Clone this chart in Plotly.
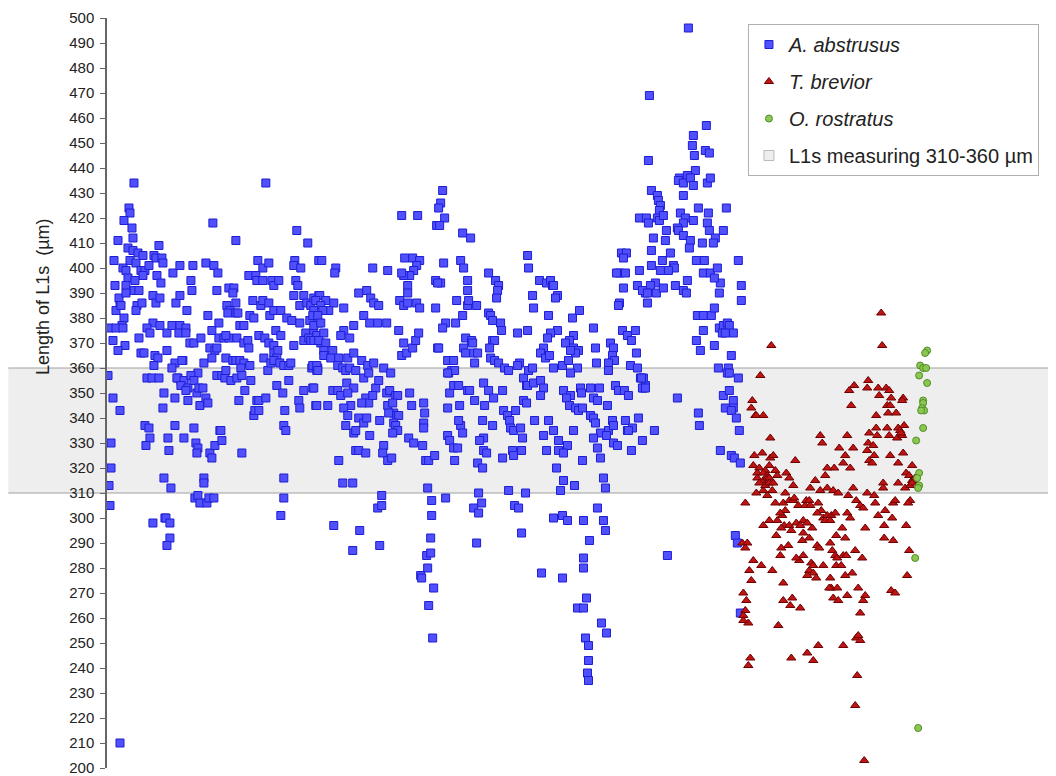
import plotly.graph_objects as go

# ---------------- data (sample order, length of L1s in µm) ----------------
abstrusus_part1 = [
(26,434),(158,434),(21,424),(22,422),(16,419),(24,416),(25,412),(105,418),(128,411),(189,415),(200,410),(10,411),(51,409),(20,408),(25,407),(30,406),(35,405),(46,405),(6,403),(22,403),(28,402),(48,404),(54,404),(55,402),(65,398),(72,401),(85,401),(98,402),(106,401),(110,398),(150,403),(155,400),(161,402),(187,403),(186,401),(193,400),(211,403),(15,400),(18,399),(20,396),(33,399),(37,399),(41,401),(35,397),(49,397),(53,394),(7,393),(18,393),(27,395),(26,391),(83,395),(84,391),(109,391),(121,392),(126,392),(125,390),(128,386),(141,397),(148,397),(149,395),(155,395),(164,395),(166,393),(171,395),(188,395),(190,393),(11,388),(12,385),(8,383),(13,385),(18,390),(31,391),(29,385),(28,383),(34,386),(45,389),(48,386),(52,388),(68,386),(72,389),(79,383),(119,385),(122,383),(120,382),(128,382),(130,382),(145,387),(153,385),(155,387),(161,386),(162,381),(166,383),(173,383),(186,389),(192,385),(196,389),(199,386),(203,385),(206,388),(211,389),(16,380),(14,377),(1,376),(8,376),(15,376),(45,378),(39,376),(42,374),(52,377),(59,374),(64,377),(72,377),(71,374),(78,376),(78,374),(100,381),(104,375),(111,378),(132,377),(136,377),(142,381),(146,380),(179,380),(184,379),(192,378),(168,375),(173,373),(198,374),(202,379),(206,374),(211,378),(5,371),(17,369),(10,367),(31,372),(82,370),(86,370),(93,372),(102,368),(107,367),(109,368),(111,372),(116,372),(121,372),(118,373),(129,372),(136,370),(140,371),(141,368),(151,373),(157,372),(161,370),(166,369),(166,366),(170,367),(169,364),(186,369),(196,371),(201,372),(208,371),(213,370),(33,366),(36,366),(47,365),(50,364),(46,361),(59,367),(67,362),(75,363),(74,363),(64,360),(70,356),(73,355),(76,354),(90,358),(96,362),(104,364),(118,364),(125,363),(128,363),(132,363),(136,362),(142,361),(156,364),(160,359),(163,362),(166,363),(172,362),(176,361),(181,361),(183,362),(204,360),(209,359),(210,360),(0,357),(5,348),(12,343),(39,356),(44,356),(51,356),(56,350),(55,344),(67,348),(69,356),(76,355),(73,353),(80,352),(78,351),(80,347),(83,357),(86,355),(89,350),(91,352),(95,352),(92,345),(98,348),(100,346),(109,357),(114,357),(117,356),(118,359),(123,355),(129,356),(133,360),(134,357),(131,347),(137,351),(143,355),(149,347),(151,347),(158,348),(146,341),(147,343),(151,343),(169,353),(175,350),(177,343),(181,355),(191,347),(192,344),(196,351),(205,352),(208,345),(37,337),(41,336),(42,332),(38,329),(60,332),(61,327),(67,337),(76,332),(86,336),(88,330),(90,328),(89,326),(102,326),(104,324),(107,329),(112,335),(114,331),(113,335),(134,326),(176,337),(178,335),(3,330),(3,320),(1,313),(56,316),(63,312),(96,316),(96,314),(176,316),(176,308),(2,305),(87,308),(90,309),(92,306),(99,306),(101,308),(106,308),(45,298),(57,300),(58,300),(62,298),(62,292),(173,301),(59,289),(12,210),
]
abstrusus_part2 = [
(335,431),(333,426),(331,424),(337,420),(329,417),(332,417),(294,421),(310,421),(355,414),(363,412),(214,403),(228,400),(227,398),(265,400),(280,399),(297,404),(305,404),(312,403),(309,401),(306,399),(302,397),(296,397),(294,398),(336,402),(353,403),(356,400),(381,398),(388,395),(391,393),(390,391),(389,388),(420,405),(421,400),(328,395),(333,394),(330,394),(300,393),(300,390),(360,395),(360,391),(212,389),(218,387),(226,386),(236,384),(208,387),(213,385),(221,383),(215,383),(206,383),(205,381),(210,381),(206,377),(213,378),(251,390),(259,391),(263,388),(266,386),(271,385),(256,381),(262,378),(270,378),(279,378),(246,377),(236,375),(242,372),(233,373),(292,387),(296,385),(300,386),(309,386),(312,384),(328,384),(291,375),(296,370),(294,365),(299,366),(305,368),(308,371),(311,374),(338,378),(335,376),(330,368),(331,368),(348,378),(349,387),(360,385),(369,385),(361,387),(355,381),(358,372),(364,371),(365,370),(356,368),(366,366),(358,366),(370,366),(340,363),(346,363),(341,358),(344,359),(347,359),(367,362),(381,382),(383,381),(385,379),(393,378),(394,375),(410,374),(420,375),(385,371),(387,371),(382,368),(383,364),(387,363),(391,362),(397,360),(401,359),(412,362),(410,361),(416,356),(419,353),(421,359),(203,371),(209,373),(216,374),(206,371),(211,371),(218,370),(216,367),(221,365),(225,367),(216,365),(223,364),(231,364),(240,364),(246,366),(205,361),(209,361),(210,359),(230,361),(235,360),(238,359),(242,360),(248,359),(254,363),(260,361),(266,362),(276,360),(283,358),(206,352),(209,345),(220,345),(225,351),(230,351),(233,349),(239,354),(246,352),(240,350),(243,345),(236,344),(238,337),(240,341),(246,334),(248,335),(256,356),(261,358),(268,352),(271,355),(258,348),(261,346),(265,349),(254,346),(251,340),(256,338),(259,340),(262,333),(272,339),(248,327),(251,327),(258,326),(279,350),(282,351),(288,349),(290,349),(280,345),(285,346),(286,342),(289,341),(291,341),(281,342),(286,338),(288,337),(290,335),(285,334),(276,329),(275,326),(280,323),(284,324),(231,323),(235,314),(245,314),(302,350),(304,345),(316,346),(317,342),(316,338),(316,336),(301,332),(306,330),(315,329),(318,323),(321,323),(327,325),(320,312),(324,307),(340,358),(342,350),(346,353),(351,353),(360,351),(362,351),(340,344),(352,345),(353,337),(351,339),(355,334),(340,333),(342,331),(346,328),(350,328),(347,323),(338,308),(324,301),(376,354),(381,351),(386,348),(367,347),(377,345),(375,339),(376,332),(372,331),(385,337),(370,322),(375,320),(376,327),(379,326),(371,310),(374,306),(366,304),(371,302),(369,290),(395,351),(396,343),(400,341),(402,339),(403,336),(406,335),(408,343),(413,336),(415,332),(405,327),(414,327),(406,325),(395,324),(401,311),(407,305),(411,304),(418,310),(414,294),(420,353),(416,347),(419,346),(226,297),(252,295),(245,287),(272,289),(274,309),(270,304),(274,305),(323,292),(319,285),(323,286),(320,280),(313,277),(314,276),(326,272),(321,265),(325,252),
]
abstrusus_part3 = [
(581,496),(542,469),(541,443),(599,457),(586,453),(585,449),(587,445),(598,447),(602,446),(588,439),(580,437),(572,436),(571,435),(576,434),(583,436),(586,433),(600,434),(603,436),(576,429),(544,431),(550,429),(551,427),(553,425),(552,423),(619,424),(601,422),(591,424),(573,422),(578,420),(576,418),(570,416),(571,415),(576,413),(583,411),(582,408),(586,419),(532,420),(539,420),(541,418),(550,420),(552,419),(556,421),(559,415),(558,411),(546,412),(544,407),(600,418),(602,415),(608,412),(616,415),(595,410),(606,410),(631,403),(634,393),(634,387),(514,406),(519,406),(516,404),(512,398),(518,398),(509,398),(516,392),(512,386),(511,385),(532,399),(544,401),(555,403),(563,406),(566,401),(567,400),(561,399),(553,399),(548,394),(543,393),(538,390),(540,386),(530,393),(535,391),(540,390),(549,390),(556,392),(568,393),(576,391),(579,390),(580,395),(589,403),(596,398),(597,403),(603,398),(610,400),(613,394),(607,396),(612,390),(590,381),(596,381),(604,381),(607,384),(596,375),(589,371),(593,367),(607,369),(612,376),(616,377),(620,378),(622,377),(626,374),(615,374),(618,374),(624,365),(621,360),(620,358),(622,358),(631,356),(611,360),(616,349),(622,351),(626,347),(626,344),(618,344),(624,343),(629,340),(632,335),(613,327),(624,325),(627,324),(633,322),(628,293),(630,290),(633,262),(560,285),(570,348),(591,342),(592,337),(432,395),(439,394),(443,395),(445,393),(450,389),(448,388),(446,393),(425,389),(426,384),(441,381),(450,375),(443,374),(440,372),(436,368),(433,366),(438,364),(442,365),(465,380),(472,383),(466,373),(462,371),(458,370),(466,368),(471,367),(468,366),(463,367),(486,376),(488,368),(489,362),(503,370),(506,368),(505,365),(507,363),(501,362),(501,359),(529,366),(523,361),(530,360),(533,356),(536,352),(538,353),(515,375),(520,373),(524,371),(528,375),(425,360),(426,354),(433,355),(436,352),(433,349),(446,360),(455,361),(461,363),(470,360),(463,358),(456,351),(463,349),(459,348),(473,352),(474,350),(462,345),(468,344),(471,343),(475,344),(483,352),(492,352),(486,348),(490,347),(483,341),(486,340),(488,338),(500,345),(508,353),(511,351),(517,351),(521,349),(535,352),(538,352),(536,356),(534,356),(493,334),(501,335),(499,333),(505,339),(506,337),(518,339),(520,335),(525,336),(531,340),(521,335),(535,331),(547,335),(427,339),(441,339),(436,333),(446,335),(466,335),(460,329),(451,327),(456,326),(451,331),(475,323),(486,332),(490,328),(493,324),(506,330),(510,329),(524,327),(439,327),(449,320),(456,315),(453,311),(467,313),(496,316),(498,312),(446,300),(455,301),(460,299),(476,299),(490,304),(496,299),(498,295),(482,291),(476,284),(476,280),(434,278),(455,276),(479,268),(470,264),(476,264),(494,258),(499,254),(478,252),(481,249),(481,243),(480,238),(481,235),
]
brevior = [
(774,382),(664,369),(775,369),(653,357),(761,355),(747,353),(742,351),(760,352),(771,352),(779,352),(782,351),(772,349),(784,348),(780,345),(783,345),(796,348),(795,347),(744,345),(769,341),(781,342),(789,342),(645,347),(644,344),(648,341),(649,341),(656,341),(663,332),(713,333),(715,330),(740,333),(732,328),(746,328),(762,334),(769,336),(770,333),(761,330),(766,329),(780,336),(782,333),(791,336),(793,335),(797,337),(790,332),(795,333),(794,334),(760,327),(767,325),(783,325),(796,326),(762,323),(765,322),(791,322),(805,321),(799,318),(802,317),(805,315),(808,316),(647,325),(655,326),(663,324),(666,325),(662,321),(646,321),(652,320),(658,319),(668,319),(650,318),(656,318),(660,317),(670,317),(679,318),(682,316),(650,316),(656,315),(660,316),(662,316),(652,314),(686,313),(688,323),(720,320),(727,320),(736,322),(738,325),(743,320),(718,317),(708,315),(703,312),(713,311),(720,312),(726,311),(731,310),(741,309),(746,312),(760,310),(767,309),(776,314),(776,312),(791,314),(798,312),(803,313),(806,315),(805,314),(678,310),(649,310),(656,311),(660,309),(665,311),(658,313),(662,314),(666,314),(638,306),(668,306),(676,306),(678,303),(675,301),(682,307),(686,307),(687,308),(691,305),(699,307),(702,307),(698,305),(703,305),(711,306),(714,303),(710,302),(716,300),(718,299),(720,301),(724,301),(723,299),(728,302),(740,302),(743,300),(749,307),(753,305),(756,304),(768,306),(771,301),(778,303),(785,300),(786,306),(788,307),(803,307),(801,306),(656,297),(662,299),(670,299),(673,302),(677,297),(682,297),(689,298),(696,299),(693,297),(700,298),(705,296),(674,296),(669,293),(684,295),(696,294),(695,291),(702,292),(710,289),(712,288),(723,290),(729,293),(735,296),(738,292),(758,296),(777,297),(777,292),(786,291),(799,297),(635,290),(640,290),(638,288),(674,288),(673,285),(681,289),(696,285),(692,283),(689,284),(704,282),(706,281),(702,279),(706,278),(700,277),(709,276),(716,281),(725,287),(728,285),(730,284),(736,285),(739,285),(729,281),(734,281),(738,277),(723,276),(724,272),(730,272),(722,272),(748,287),(755,284),(745,278),(751,272),(740,269),(726,268),(731,267),(758,269),(756,267),(753,262),(784,271),(788,270),(800,277),(802,287),(676,274),(685,268),(683,265),(693,264),(676,267),(646,283),(642,279),(665,279),(654,281),(644,275),(636,270),(639,267),(638,263),(636,261),(641,258),(636,259),(671,257),(643,244),(641,241),(684,244),(700,246),(706,243),(711,249),(736,249),(749,252),(753,251),(751,253),(750,237),(748,225),(757,203),
]
rostratus = [
(820,367),(818,366),(813,361),(816,360),(819,360),(812,357),(820,354),(816,347),(816,346),(815,344),(817,343),(814,343),(816,336),(809,331),(812,318),(810,316),(812,313),(811,312),(808,284),(811,216),
]
band_low, band_high = 310, 360
y_ticks = list(range(200, 501, 10))

abstrusus = abstrusus_part1 + abstrusus_part2 + abstrusus_part3


def xs(pts):
    return [p[0] for p in pts]


def ys(pts):
    return [p[1] for p in pts]


fig = go.Figure()

fig.add_trace(go.Scatter(
    x=xs(abstrusus), y=ys(abstrusus), mode="markers", name="<i>A. abstrusus</i>",
    legendgroup="a",
    marker=dict(symbol="square", size=8, color="rgb(80,80,255)",
                line=dict(color="rgb(30,30,210)", width=1))))
fig.add_trace(go.Scatter(
    x=xs(brevior), y=ys(brevior), mode="markers", name="<i>T. brevior</i>",
    legendgroup="b",
    marker=dict(symbol="triangle-up", size=8, color="rgb(190,20,20)",
                line=dict(color="rgb(110,0,0)", width=1))))
fig.add_trace(go.Scatter(
    x=xs(rostratus), y=ys(rostratus), mode="markers", name="<i>O. rostratus</i>",
    legendgroup="c",
    marker=dict(symbol="circle", size=7, color="rgb(140,200,80)",
                line=dict(color="rgb(80,140,40)", width=1))))
fig.add_trace(go.Scatter(
    x=[None], y=[None], mode="markers", name="L1s measuring 310-360 µm",
    legendgroup="d",
    marker=dict(symbol="square", size=10, color="#eeeeee",
                line=dict(color="#bbbbbb", width=1))))

# shaded band
fig.add_shape(type="rect", xref="paper", yref="y", x0=-0.104, x1=1,
              y0=band_low, y1=band_high, fillcolor="#eeeeee",
              line=dict(width=0), layer="below")
for yv in (band_low, band_high):
    fig.add_shape(type="line", xref="paper", yref="y", x0=-0.104, x1=1,
                  y0=yv, y1=yv, line=dict(color="#a0a0a0", width=1),
                  layer="below")

fig.add_annotation(text="Length of L1s  (µm)", xref="paper", yref="paper",
                   x=-0.0675, y=0.628, textangle=-90, showarrow=False,
                   xanchor="center", yanchor="middle",
                   font=dict(family="Arial", size=18, color="#222"))

fig.update_layout(
    width=1048, height=768,
    margin=dict(l=99, r=0, t=10, b=6),
    plot_bgcolor="white", paper_bgcolor="white",
    showlegend=True,
    legend=dict(x=0.6754, y=0.992, xanchor="left", yanchor="top",
                bordercolor="#b0b0b0", borderwidth=1, bgcolor="white",
                font=dict(family="Arial", size=20, color="#222"),
                tracegroupgap=8, itemwidth=30),
    xaxis=dict(visible=False, range=[-1, 949]),
    yaxis=dict(range=[200, 500], tickvals=y_ticks, ticks="outside", ticklen=5,
               tickcolor="#666", showline=True, linecolor="#666", linewidth=1.5,
               showgrid=False, zeroline=False, ticklabelstandoff=3,
               ticklabeloverflow="allow",
               tickfont=dict(family="Arial", size=15, color="#222")),
)

fig.write_html("out.html")
